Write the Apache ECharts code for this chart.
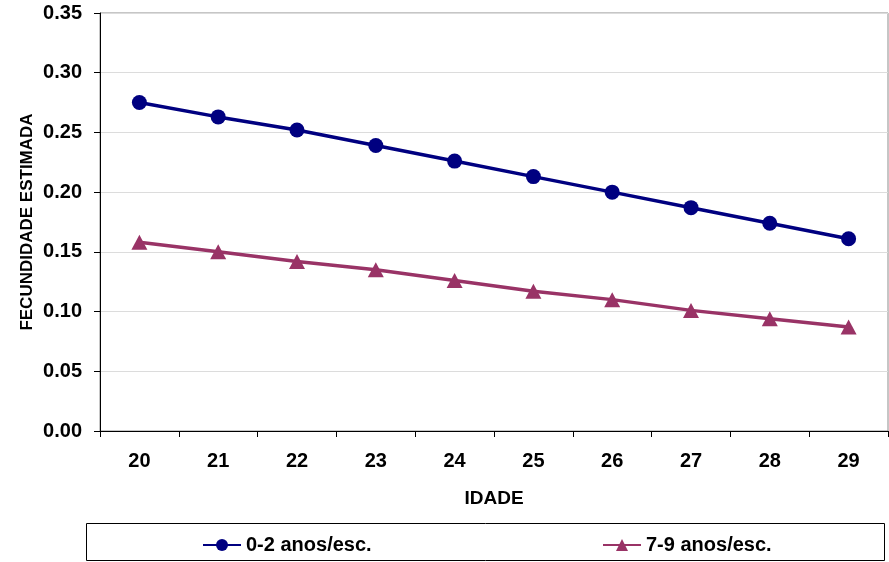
<!DOCTYPE html>
<html>
<head>
<meta charset="utf-8">
<script src="https://cdn.jsdelivr.net/npm/echarts@6/dist/echarts.min.js"></script>
<style>
html,body{margin:0;padding:0;background:#fff;}
#c{width:889px;height:562px;}
</style>
</head>
<body>
<div id="c"></div>
<script>
const categories = ['20','21','22','23','24','25','26','27','28','29'];
const seriesNames = ['0-2 anos/esc.', '7-9 anos/esc.'];
const low = [0.275, 0.263, 0.252, 0.239, 0.226, 0.213, 0.200, 0.187, 0.174, 0.161];
const high = [0.158, 0.150, 0.142, 0.135, 0.126, 0.117, 0.110, 0.101, 0.094, 0.087];
const yTitle = 'FECUNDIDADE ESTIMADA';
const xTitle = 'IDADE';

const FONT = '"Liberation Sans", Arial, sans-serif';
const chart = echarts.init(document.getElementById('c'), null, {renderer: 'canvas'});
chart.setOption({
  animation: false,
  backgroundColor: '#fff',
  grid: {left: 100, right: 1, top: 13, bottom: 131, show: true, borderColor: '#8c8c8c', borderWidth: 1, backgroundColor: 'transparent'},
  graphic: [{
    type: 'rect',
    shape: {x: 86.5, y: 523.5, width: 798, height: 37},
    style: {fill: 'none', stroke: '#000', lineWidth: 1}
  }],
  legend: [
    {data: [seriesNames[0]], left: 202, top: 535, padding: 0, itemWidth: 38, itemHeight: 15, itemGap: 5,
     textStyle: {fontFamily: FONT, fontWeight: 'bold', fontSize: 20, color: '#000'}},
    {data: [seriesNames[1]], left: 602, top: 535, padding: 0, itemWidth: 38, itemHeight: 15, itemGap: 5,
     textStyle: {fontFamily: FONT, fontWeight: 'bold', fontSize: 20, color: '#000'}}
  ],
  xAxis: {
    type: 'category',
    data: categories,
    boundaryGap: true,
    name: xTitle,
    nameLocation: 'middle',
    nameGap: 58,
    nameMoveOverlap: false,
    nameTextStyle: {fontFamily: FONT, fontWeight: 'bold', fontSize: 19, color: '#000'},
    axisLine: {lineStyle: {color: '#000', width: 1}},
    axisTick: {show: true, length: 6, inside: false, alignWithLabel: false, lineStyle: {color: '#000'}},
    axisLabel: {fontFamily: FONT, fontWeight: 'bold', fontSize: 20, color: '#000', margin: 20},
    splitLine: {show: false}
  },
  yAxis: {
    type: 'value',
    min: 0, max: 0.35, interval: 0.05,
    name: yTitle,
    nameLocation: 'middle',
    nameGap: 64,
    nameMoveOverlap: false,
    nameTextStyle: {fontFamily: FONT, fontWeight: 'bold', fontSize: 17, color: '#000'},
    axisLine: {show: true, lineStyle: {color: '#000', width: 1}},
    axisTick: {show: true, length: 6, lineStyle: {color: '#000'}},
    axisLabel: {fontFamily: FONT, fontWeight: 'bold', fontSize: 20, color: '#000', margin: 18,
      formatter: v => v.toFixed(2)},
    splitLine: {show: true, lineStyle: {color: '#dcdcdc', width: 1}}
  },
  series: [
    {name: seriesNames[0], type: 'line', data: low, symbol: 'circle', symbolSize: 15,
     lineStyle: {color: '#000080', width: 3.5}, itemStyle: {color: '#000080'}},
    {name: seriesNames[1], type: 'line', data: high, symbol: 'triangle', symbolSize: [16, 15],
     lineStyle: {color: '#993366', width: 3.5}, itemStyle: {color: '#993366'}}
  ]
});
</script>
</body>
</html>
